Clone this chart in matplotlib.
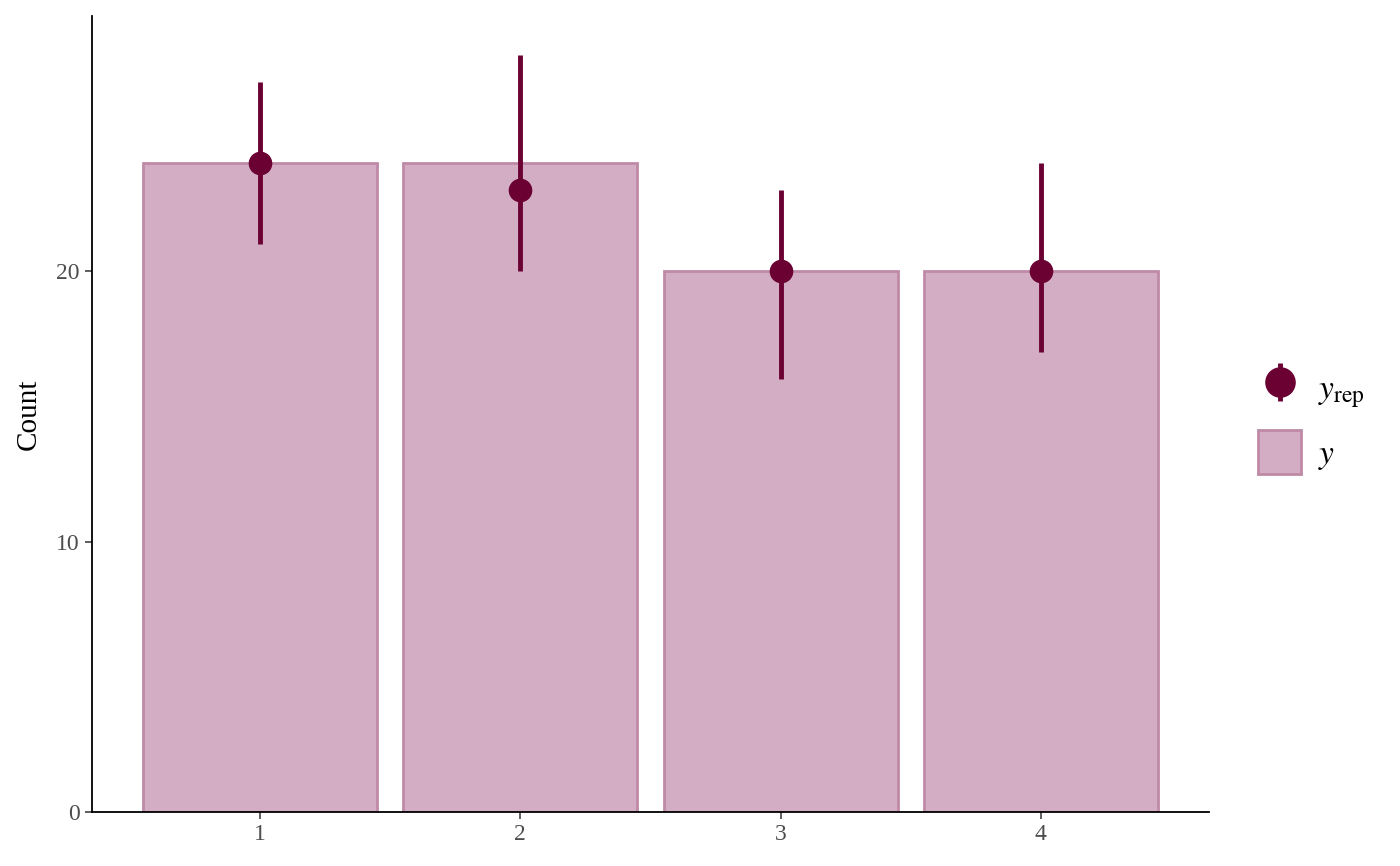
import numpy as np
import matplotlib
matplotlib.use("Agg")
import matplotlib.pyplot as plt
from matplotlib.patches import Patch
from matplotlib.lines import Line2D

plt.rcParams['font.family'] = ['Liberation Serif', 'DejaVu Serif']
plt.rcParams['mathtext.fontset'] = 'stix'

# observed counts and replicated summaries
categories = [1, 2, 3, 4]
y_obs = [24, 24, 20, 20]
yrep_mid = [24, 23, 20, 20]
yrep_lo = [21, 20, 16, 17]
yrep_hi = [27, 28, 23, 24]

fill_col = '#d3adc3'
edge_col = '#bf8aa6'
dark_col = '#6b0033'

fig = plt.figure(figsize=(14, 8.66), dpi=100)
ax = fig.add_axes([92/1400, 54/866, (1209-92)/1400, (812-16)/866])

ax.bar(categories, y_obs, width=0.9, color=fill_col, edgecolor=edge_col, linewidth=2, zorder=1)
ax.vlines(categories, yrep_lo, yrep_hi, color=dark_col, linewidth=3.5, zorder=2)
ax.plot(categories, yrep_mid, 'o', color=dark_col, markersize=16, zorder=3)

ax.set_xlim(0.354, 4.646)
ax.set_ylim(0, 29.43)
ax.set_xticks(categories)
ax.set_yticks([0, 10, 20])
ax.set_ylabel('Count', fontsize=21, labelpad=10)

for s in ['top', 'right']:
    ax.spines[s].set_visible(False)
for s in ['left', 'bottom']:
    ax.spines[s].set_linewidth(1.3)
ax.tick_params(axis='both', labelsize=17, labelcolor='#4d4d4d', color='#333333',
               length=5, width=1.1, pad=4)

h_rep = Line2D([0], [0], color=dark_col, marker='o', markersize=21, linestyle='none')
h_vline = Line2D([0], [0], color=dark_col, marker='|', markersize=27, markeredgewidth=3.5, linestyle='none')
h_obs = Patch(facecolor=fill_col, edgecolor=edge_col, linewidth=2)
fig.legend([(h_vline, h_rep), h_obs], [r'$y_{\mathrm{rep}}$', r'$y$'],
           loc='center left', bbox_to_anchor=(1228/1400, 1 - 420/866),
           frameon=False, fontsize=24, handlelength=1.3, handleheight=1.65,
           labelspacing=0.6, handletextpad=0.5)

fig.savefig('out.png', dpi=100)
